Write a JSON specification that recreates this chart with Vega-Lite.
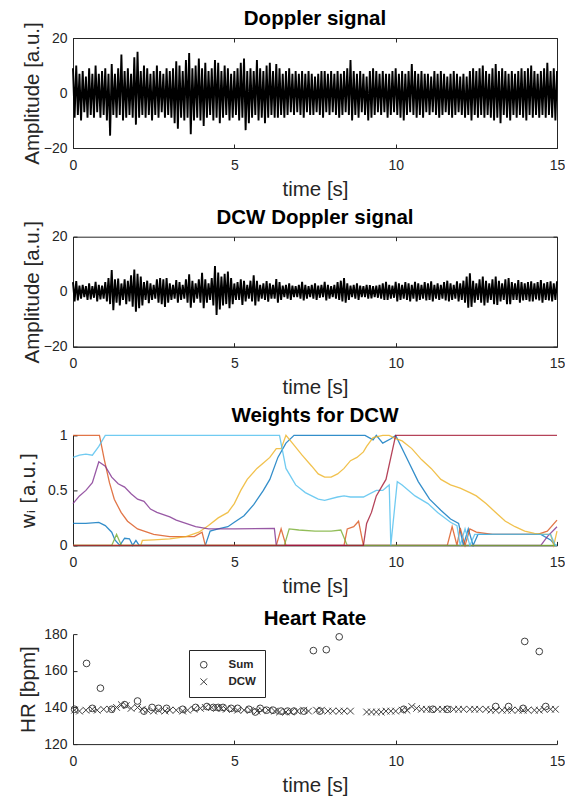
{
  "$schema": "https://vega.github.io/schema/vega-lite/v6.json",
  "padding": {"left": 17, "top": 8, "right": 5, "bottom": 5},
  "bounds": "flush",
  "spacing": 88.7,
  "background": "white",
  "config": {
    "font": "Liberation Sans",
    "view": {"stroke": "#262626", "strokeWidth": 1},
    "title": {"fontSize": 20.5, "fontWeight": "bold", "color": "#000000", "font": "Liberation Sans"},
    "axis": {
      "grid": false,
      "domainColor": "#262626",
      "tickColor": "#262626",
      "labelColor": "#262626",
      "titleColor": "#262626",
      "labelFont": "Liberation Sans",
      "labelFontSize": 14,
      "titleFont": "Liberation Sans",
      "titleFontSize": 20.5,
      "titleFontWeight": "normal",
      "tickSize": -4,
      "labelFlush": false,
      "labelOverlap": false
    },
    "axisX": {"labelPadding": 14, "titleY": 41, "titleBaseline": "middle"},
    "axisY": {"labelPadding": 10, "titleBaseline": "middle", "titleY": 55}
  },
  "datasets": {
    "raw": [
      {"t":0.0,"v":9},{"t":0.05,"v":-9},{"t":0.1,"v":10},{"t":0.15,"v":-8},{"t":0.2,"v":7},{"t":0.25,"v":-10},{"t":0.3,"v":8},{"t":0.35,"v":-7},{"t":0.4,"v":6},{"t":0.45,"v":-9},{"t":0.5,"v":9},{"t":0.55,"v":-8},{"t":0.6,"v":7},{"t":0.65,"v":-9},{"t":0.7,"v":10},{"t":0.75,"v":-7},{"t":0.8,"v":7},{"t":0.85,"v":-9},{"t":0.9,"v":8},{"t":0.95,"v":-8},
      {"t":1.0,"v":9},{"t":1.05,"v":-10},{"t":1.1,"v":7},{"t":1.15,"v":-15.5},{"t":1.2,"v":10.5},{"t":1.25,"v":-8},{"t":1.3,"v":7},{"t":1.35,"v":-9},{"t":1.4,"v":9},{"t":1.45,"v":-8},{"t":1.5,"v":14},{"t":1.55,"v":-10},{"t":1.6,"v":8},{"t":1.65,"v":-9},{"t":1.7,"v":9},{"t":1.75,"v":-8},{"t":1.8,"v":7},{"t":1.85,"v":-9},{"t":1.9,"v":13},{"t":1.95,"v":-11.5},
      {"t":2.0,"v":15},{"t":2.05,"v":-9},{"t":2.1,"v":8},{"t":2.15,"v":-8},{"t":2.2,"v":10},{"t":2.25,"v":-9},{"t":2.3,"v":9},{"t":2.35,"v":-8},{"t":2.4,"v":7},{"t":2.45,"v":-10},{"t":2.5,"v":8},{"t":2.55,"v":-8},{"t":2.6,"v":10},{"t":2.65,"v":-9},{"t":2.7,"v":8},{"t":2.75,"v":-7},{"t":2.8,"v":7},{"t":2.85,"v":-9},{"t":2.9,"v":9},{"t":2.95,"v":-8},
      {"t":3.0,"v":8},{"t":3.05,"v":-9},{"t":3.1,"v":9},{"t":3.15,"v":-11},{"t":3.2,"v":11.5},{"t":3.25,"v":-13},{"t":3.3,"v":10},{"t":3.35,"v":-9},{"t":3.4,"v":8},{"t":3.45,"v":-10},{"t":3.5,"v":12},{"t":3.55,"v":-9},{"t":3.6,"v":14.5},{"t":3.65,"v":-15},{"t":3.7,"v":9},{"t":3.75,"v":-10},{"t":3.8,"v":10},{"t":3.85,"v":-9},{"t":3.9,"v":12.5},{"t":3.95,"v":-10},
      {"t":4.0,"v":9},{"t":4.05,"v":-12},{"t":4.1,"v":11},{"t":4.15,"v":-9},{"t":4.2,"v":8},{"t":4.25,"v":-8},{"t":4.3,"v":9},{"t":4.35,"v":-10},{"t":4.4,"v":12},{"t":4.45,"v":-9},{"t":4.5,"v":11},{"t":4.55,"v":-11},{"t":4.6,"v":8},{"t":4.65,"v":-9},{"t":4.7,"v":10},{"t":4.75,"v":-8},{"t":4.8,"v":9},{"t":4.85,"v":-10},{"t":4.9,"v":7},{"t":4.95,"v":-9},
      {"t":5.0,"v":8},{"t":5.05,"v":-8},{"t":5.1,"v":9},{"t":5.15,"v":-10},{"t":5.2,"v":11},{"t":5.25,"v":-9},{"t":5.3,"v":12.5},{"t":5.35,"v":-13.5},{"t":5.4,"v":8},{"t":5.45,"v":-11},{"t":5.5,"v":9},{"t":5.55,"v":-9},{"t":5.6,"v":8},{"t":5.65,"v":-8},{"t":5.7,"v":12},{"t":5.75,"v":-10},{"t":5.8,"v":9},{"t":5.85,"v":-9},{"t":5.9,"v":8},{"t":5.95,"v":-11},
      {"t":6.0,"v":10},{"t":6.05,"v":-9},{"t":6.1,"v":11},{"t":6.15,"v":-8},{"t":6.2,"v":8},{"t":6.25,"v":-9},{"t":6.3,"v":10.5},{"t":6.35,"v":-9},{"t":6.4,"v":9},{"t":6.45,"v":-8},{"t":6.5,"v":7},{"t":6.55,"v":-9},{"t":6.6,"v":8},{"t":6.65,"v":-8},{"t":6.7,"v":9},{"t":6.75,"v":-7},{"t":6.8,"v":7},{"t":6.85,"v":-8},{"t":6.9,"v":8},{"t":6.95,"v":-7},
      {"t":7.0,"v":7},{"t":7.05,"v":-8},{"t":7.1,"v":8},{"t":7.15,"v":-9},{"t":7.2,"v":7},{"t":7.25,"v":-7},{"t":7.3,"v":8},{"t":7.35,"v":-8},{"t":7.4,"v":7},{"t":7.45,"v":-8},{"t":7.5,"v":6},{"t":7.55,"v":-7},{"t":7.6,"v":7},{"t":7.65,"v":-8},{"t":7.7,"v":8},{"t":7.75,"v":-9},{"t":7.8,"v":8},{"t":7.85,"v":-7},{"t":7.9,"v":7},{"t":7.95,"v":-8},
      {"t":8.0,"v":8},{"t":8.05,"v":-7},{"t":8.1,"v":7},{"t":8.15,"v":-8},{"t":8.2,"v":8},{"t":8.25,"v":-9},{"t":8.3,"v":7},{"t":8.35,"v":-8},{"t":8.4,"v":8},{"t":8.45,"v":-7},{"t":8.5,"v":9},{"t":8.55,"v":-8},{"t":8.6,"v":12},{"t":8.65,"v":-10},{"t":8.7,"v":8},{"t":8.75,"v":-8},{"t":8.8,"v":7},{"t":8.85,"v":-9},{"t":8.9,"v":8},{"t":8.95,"v":-7},
      {"t":9.0,"v":7},{"t":9.05,"v":-8},{"t":9.1,"v":6},{"t":9.15,"v":-10},{"t":9.2,"v":8},{"t":9.25,"v":-9},{"t":9.3,"v":9},{"t":9.35,"v":-8},{"t":9.4,"v":8},{"t":9.45,"v":-7},{"t":9.5,"v":7},{"t":9.55,"v":-8},{"t":9.6,"v":8},{"t":9.65,"v":-7},{"t":9.7,"v":7},{"t":9.75,"v":-9},{"t":9.8,"v":7},{"t":9.85,"v":-8},{"t":9.9,"v":8},{"t":9.95,"v":-7},
      {"t":10.0,"v":9},{"t":10.05,"v":-8},{"t":10.1,"v":7},{"t":10.15,"v":-9},{"t":10.2,"v":8},{"t":10.25,"v":-10},{"t":10.3,"v":7},{"t":10.35,"v":-8},{"t":10.4,"v":8},{"t":10.45,"v":-7},{"t":10.5,"v":10.5},{"t":10.55,"v":-8},{"t":10.6,"v":8},{"t":10.65,"v":-9},{"t":10.7,"v":7},{"t":10.75,"v":-8},{"t":10.8,"v":8},{"t":10.85,"v":-9},{"t":10.9,"v":7},{"t":10.95,"v":-7},
      {"t":11.0,"v":7},{"t":11.05,"v":-8},{"t":11.1,"v":6},{"t":11.15,"v":-7},{"t":11.2,"v":8},{"t":11.25,"v":-8},{"t":11.3,"v":7},{"t":11.35,"v":-9},{"t":11.4,"v":8},{"t":11.45,"v":-8},{"t":11.5,"v":7},{"t":11.55,"v":-7},{"t":11.6,"v":6},{"t":11.65,"v":-8},{"t":11.7,"v":7},{"t":11.75,"v":-9},{"t":11.8,"v":8},{"t":11.85,"v":-8},{"t":11.9,"v":7},{"t":11.95,"v":-7},
      {"t":12.0,"v":6},{"t":12.05,"v":-8},{"t":12.1,"v":7},{"t":12.15,"v":-9},{"t":12.2,"v":6},{"t":12.25,"v":-8},{"t":12.3,"v":8},{"t":12.35,"v":-10},{"t":12.4,"v":9},{"t":12.45,"v":-8},{"t":12.5,"v":8},{"t":12.55,"v":-9},{"t":12.6,"v":9},{"t":12.65,"v":-8},{"t":12.7,"v":10},{"t":12.75,"v":-9},{"t":12.8,"v":8},{"t":12.85,"v":-8},{"t":12.9,"v":7},{"t":12.95,"v":-9},
      {"t":13.0,"v":9},{"t":13.05,"v":-10},{"t":13.1,"v":10.5},{"t":13.15,"v":-9},{"t":13.2,"v":8},{"t":13.25,"v":-11},{"t":13.3,"v":9},{"t":13.35,"v":-8},{"t":13.4,"v":8},{"t":13.45,"v":-9},{"t":13.5,"v":7},{"t":13.55,"v":-10},{"t":13.6,"v":8},{"t":13.65,"v":-8},{"t":13.7,"v":7},{"t":13.75,"v":-9},{"t":13.8,"v":8},{"t":13.85,"v":-8},{"t":13.9,"v":9},{"t":13.95,"v":-9},
      {"t":14.0,"v":8},{"t":14.05,"v":-10},{"t":14.1,"v":9},{"t":14.15,"v":-8},{"t":14.2,"v":10},{"t":14.25,"v":-9},{"t":14.3,"v":8},{"t":14.35,"v":-8},{"t":14.4,"v":7},{"t":14.45,"v":-9},{"t":14.5,"v":8},{"t":14.55,"v":-8},{"t":14.6,"v":9},{"t":14.65,"v":-9},{"t":14.7,"v":11},{"t":14.75,"v":-8},{"t":14.8,"v":8},{"t":14.85,"v":-9},{"t":14.9,"v":9},{"t":14.95,"v":-10},
      {"t":15.0,"v":8}
    ],
    "dcw": [
      {"t":0.0,"v":3.5},{"t":0.05,"v":-3.5},{"t":0.1,"v":3.9},{"t":0.15,"v":-3.2},{"t":0.2,"v":2.2},{"t":0.25,"v":-2.5},{"t":0.3,"v":2.5},{"t":0.35,"v":-2},{"t":0.4,"v":2},{"t":0.45,"v":-3},{"t":0.5,"v":3},{"t":0.55,"v":-2.8},{"t":0.6,"v":2},{"t":0.65,"v":-2.2},{"t":0.7,"v":3.6},{"t":0.75,"v":-3.5},{"t":0.8,"v":2.5},{"t":0.85,"v":-2.8},{"t":0.9,"v":2.2},{"t":0.95,"v":-2.5},
      {"t":1.0,"v":3.5},{"t":1.05,"v":-3.5},{"t":1.1,"v":5},{"t":1.15,"v":-4.5},{"t":1.2,"v":7.9},{"t":1.25,"v":-6.7},{"t":1.3,"v":4.5},{"t":1.35,"v":-4},{"t":1.4,"v":4.8},{"t":1.45,"v":-5},{"t":1.5,"v":3},{"t":1.55,"v":-3},{"t":1.6,"v":4.5},{"t":1.65,"v":-4.5},{"t":1.7,"v":4},{"t":1.75,"v":-3.5},{"t":1.8,"v":6},{"t":1.85,"v":-5.5},{"t":1.9,"v":8.1},{"t":1.95,"v":-7.3},
      {"t":2.0,"v":6.5},{"t":2.05,"v":-6},{"t":2.1,"v":5.5},{"t":2.15,"v":-5},{"t":2.2,"v":3.5},{"t":2.25,"v":-3},{"t":2.3,"v":4},{"t":2.35,"v":-4.2},{"t":2.4,"v":3},{"t":2.45,"v":-3},{"t":2.5,"v":2.5},{"t":2.55,"v":-2.5},{"t":2.6,"v":4.5},{"t":2.65,"v":-4},{"t":2.7,"v":5},{"t":2.75,"v":-4.5},{"t":2.8,"v":4.5},{"t":2.85,"v":-5.5},{"t":2.9,"v":5},{"t":2.95,"v":-4},
      {"t":3.0,"v":3},{"t":3.05,"v":-3},{"t":3.1,"v":2.5},{"t":3.15,"v":-2.5},{"t":3.2,"v":4.2},{"t":3.25,"v":-4},{"t":3.3,"v":3.5},{"t":3.35,"v":-3},{"t":3.4,"v":2.5},{"t":3.45,"v":-2.5},{"t":3.5,"v":4.5},{"t":3.55,"v":-4},{"t":3.6,"v":6.3},{"t":3.65,"v":-5.8},{"t":3.7,"v":4},{"t":3.75,"v":-4},{"t":3.8,"v":3},{"t":3.85,"v":-2.5},{"t":3.9,"v":4.5},{"t":3.95,"v":-4},
      {"t":4.0,"v":6.9},{"t":4.05,"v":-6},{"t":4.1,"v":4.5},{"t":4.15,"v":-4},{"t":4.2,"v":3},{"t":4.25,"v":-3},{"t":4.3,"v":5},{"t":4.35,"v":-5},{"t":4.4,"v":9.3},{"t":4.45,"v":-8.5},{"t":4.5,"v":7},{"t":4.55,"v":-6.5},{"t":4.6,"v":5.5},{"t":4.65,"v":-5},{"t":4.7,"v":6.5},{"t":4.75,"v":-4.5},{"t":4.8,"v":7.3},{"t":4.85,"v":-6},{"t":4.9,"v":5},{"t":4.95,"v":-4.5},
      {"t":5.0,"v":3},{"t":5.05,"v":-3},{"t":5.1,"v":3.5},{"t":5.15,"v":-3},{"t":5.2,"v":4.5},{"t":5.25,"v":-4.8},{"t":5.3,"v":4},{"t":5.35,"v":-3.5},{"t":5.4,"v":2.5},{"t":5.45,"v":-2.5},{"t":5.5,"v":4},{"t":5.55,"v":-3.5},{"t":5.6,"v":6},{"t":5.65,"v":-5},{"t":5.7,"v":4},{"t":5.75,"v":-3.5},{"t":5.8,"v":2.5},{"t":5.85,"v":-2.5},{"t":5.9,"v":3},{"t":5.95,"v":-3},
      {"t":6.0,"v":3.9},{"t":6.05,"v":-3.6},{"t":6.1,"v":3},{"t":6.15,"v":-2.5},{"t":6.2,"v":2.5},{"t":6.25,"v":-2.5},{"t":6.3,"v":4.6},{"t":6.35,"v":-4},{"t":6.4,"v":3.5},{"t":6.45,"v":-3},{"t":6.5,"v":2.2},{"t":6.55,"v":-2},{"t":6.6,"v":2.5},{"t":6.65,"v":-2.5},{"t":6.7,"v":3},{"t":6.75,"v":-3},{"t":6.8,"v":2.2},{"t":6.85,"v":-2},{"t":6.9,"v":2},{"t":6.95,"v":-2},
      {"t":7.0,"v":2.5},{"t":7.05,"v":-2.5},{"t":7.1,"v":3.6},{"t":7.15,"v":-3.2},{"t":7.2,"v":2.5},{"t":7.25,"v":-2.5},{"t":7.3,"v":2},{"t":7.35,"v":-2},{"t":7.4,"v":2.5},{"t":7.45,"v":-2.5},{"t":7.5,"v":3},{"t":7.55,"v":-3},{"t":7.6,"v":2.2},{"t":7.65,"v":-2.2},{"t":7.7,"v":2.5},{"t":7.75,"v":-2},{"t":7.8,"v":3.6},{"t":7.85,"v":-3.2},{"t":7.9,"v":2.5},{"t":7.95,"v":-2.5},
      {"t":8.0,"v":2},{"t":8.05,"v":-2},{"t":8.1,"v":2.5},{"t":8.15,"v":-2.5},{"t":8.2,"v":3.5},{"t":8.25,"v":-3},{"t":8.3,"v":4},{"t":8.35,"v":-3.5},{"t":8.4,"v":5},{"t":8.45,"v":-4},{"t":8.5,"v":3},{"t":8.55,"v":-3},{"t":8.6,"v":2.2},{"t":8.65,"v":-2},{"t":8.7,"v":2.5},{"t":8.75,"v":-2.5},{"t":8.8,"v":3},{"t":8.85,"v":-3},{"t":8.9,"v":2.2},{"t":8.95,"v":-2},
      {"t":9.0,"v":2},{"t":9.05,"v":-2},{"t":9.1,"v":2.5},{"t":9.15,"v":-2.5},{"t":9.2,"v":2.4},{"t":9.25,"v":-2.4},{"t":9.3,"v":2},{"t":9.35,"v":-2},{"t":9.4,"v":2.2},{"t":9.45,"v":-2.2},{"t":9.5,"v":2.5},{"t":9.55,"v":-2.5},{"t":9.6,"v":3},{"t":9.65,"v":-3},{"t":9.7,"v":3.6},{"t":9.75,"v":-3},{"t":9.8,"v":2.5},{"t":9.85,"v":-2.5},{"t":9.9,"v":2.2},{"t":9.95,"v":-2.2},
      {"t":10.0,"v":3.6},{"t":10.05,"v":-3.5},{"t":10.1,"v":3},{"t":10.15,"v":-3},{"t":10.2,"v":2.5},{"t":10.25,"v":-2.5},{"t":10.3,"v":3.5},{"t":10.35,"v":-3},{"t":10.4,"v":3},{"t":10.45,"v":-3.5},{"t":10.5,"v":2.5},{"t":10.55,"v":-2.5},{"t":10.6,"v":3.6},{"t":10.65,"v":-3.5},{"t":10.7,"v":3},{"t":10.75,"v":-3},{"t":10.8,"v":2.5},{"t":10.85,"v":-2.5},{"t":10.9,"v":3.5},{"t":10.95,"v":-3.2},
      {"t":11.0,"v":3},{"t":11.05,"v":-3},{"t":11.1,"v":3.8},{"t":11.15,"v":-3.5},{"t":11.2,"v":2.5},{"t":11.25,"v":-2.5},{"t":11.3,"v":3},{"t":11.35,"v":-3},{"t":11.4,"v":2.5},{"t":11.45,"v":-2.5},{"t":11.5,"v":3.5},{"t":11.55,"v":-3.2},{"t":11.6,"v":4},{"t":11.65,"v":-3.5},{"t":11.7,"v":3},{"t":11.75,"v":-3},{"t":11.8,"v":2.5},{"t":11.85,"v":-2.5},{"t":11.9,"v":3.8},{"t":11.95,"v":-3.5},
      {"t":12.0,"v":3},{"t":12.05,"v":-3},{"t":12.1,"v":4},{"t":12.15,"v":-4},{"t":12.2,"v":5.5},{"t":12.25,"v":-5.8},{"t":12.3,"v":6.7},{"t":12.35,"v":-5.5},{"t":12.4,"v":4},{"t":12.45,"v":-4},{"t":12.5,"v":3},{"t":12.55,"v":-3},{"t":12.6,"v":4.5},{"t":12.65,"v":-4},{"t":12.7,"v":5.5},{"t":12.75,"v":-5},{"t":12.8,"v":4},{"t":12.85,"v":-4},{"t":12.9,"v":3},{"t":12.95,"v":-3},
      {"t":13.0,"v":4.5},{"t":13.05,"v":-4.5},{"t":13.1,"v":5.5},{"t":13.15,"v":-4.8},{"t":13.2,"v":4},{"t":13.25,"v":-3.5},{"t":13.3,"v":3},{"t":13.35,"v":-3},{"t":13.4,"v":4.5},{"t":13.45,"v":-4.5},{"t":13.5,"v":5},{"t":13.55,"v":-4.5},{"t":13.6,"v":3.5},{"t":13.65,"v":-3},{"t":13.7,"v":3},{"t":13.75,"v":-3},{"t":13.8,"v":4.2},{"t":13.85,"v":-4},{"t":13.9,"v":3.5},{"t":13.95,"v":-3.2},
      {"t":14.0,"v":3},{"t":14.05,"v":-3},{"t":14.1,"v":3.5},{"t":14.15,"v":-3.5},{"t":14.2,"v":3.8},{"t":14.25,"v":-3.5},{"t":14.3,"v":3},{"t":14.35,"v":-2.8},{"t":14.4,"v":3.5},{"t":14.45,"v":-3.2},{"t":14.5,"v":4.2},{"t":14.55,"v":-4},{"t":14.6,"v":3},{"t":14.65,"v":-3},{"t":14.7,"v":3.5},{"t":14.75,"v":-3.2},{"t":14.8,"v":3.8},{"t":14.85,"v":-3.5},{"t":14.9,"v":3},{"t":14.95,"v":-3},
      {"t":15.0,"v":3.8}
    ],
    "w": [
      {"s":"w1","t":0,"w":0.2},{"s":"w1","t":0.4,"w":0.2},{"s":"w1","t":0.8,"w":0.21},{"s":"w1","t":1.0,"w":0.18},{"s":"w1","t":1.2,"w":0.12},{"s":"w1","t":1.3,"w":0.05},{"s":"w1","t":1.45,"w":0},{"s":"w1","t":1.6,"w":0.065},{"s":"w1","t":1.75,"w":0.06},{"s":"w1","t":1.85,"w":0},{"s":"w1","t":1.95,"w":0.045},{"s":"w1","t":2.05,"w":0},{"s":"w1","t":4.1,"w":0},{"s":"w1","t":4.25,"w":0.13},{"s":"w1","t":4.5,"w":0.15},{"s":"w1","t":4.8,"w":0.17},{"s":"w1","t":5.0,"w":0.21},{"s":"w1","t":5.3,"w":0.27},{"s":"w1","t":5.6,"w":0.37},{"s":"w1","t":5.9,"w":0.5},{"s":"w1","t":6.1,"w":0.6},{"s":"w1","t":6.35,"w":0.8},{"s":"w1","t":6.6,"w":0.93},{"s":"w1","t":6.85,"w":1.0},{"s":"w1","t":9.05,"w":1.0},{"s":"w1","t":9.3,"w":0.96},{"s":"w1","t":9.4,"w":1.0},{"s":"w1","t":9.6,"w":0.93},{"s":"w1","t":9.85,"w":0.97},{"s":"w1","t":10.0,"w":1.0},{"s":"w1","t":10.35,"w":0.79},{"s":"w1","t":10.7,"w":0.58},{"s":"w1","t":11.05,"w":0.42},{"s":"w1","t":11.4,"w":0.32},{"s":"w1","t":11.7,"w":0.24},{"s":"w1","t":11.95,"w":0.2},{"s":"w1","t":12.1,"w":0},{"s":"w1","t":12.25,"w":0.15},{"s":"w1","t":12.4,"w":0},{"s":"w1","t":12.55,"w":0.1},{"s":"w1","t":14.5,"w":0.1},{"s":"w1","t":14.8,"w":0.05},{"s":"w1","t":14.95,"w":0},{"s":"w1","t":15,"w":0},
      {"s":"w2","t":0,"w":1},{"s":"w2","t":0.82,"w":1},{"s":"w2","t":0.97,"w":0.78},{"s":"w2","t":1.13,"w":0.57},{"s":"w2","t":1.28,"w":0.42},{"s":"w2","t":1.49,"w":0.3},{"s":"w2","t":1.69,"w":0.22},{"s":"w2","t":2.0,"w":0.15},{"s":"w2","t":2.5,"w":0.1},{"s":"w2","t":3.0,"w":0.08},{"s":"w2","t":3.76,"w":0.08},{"s":"w2","t":4.0,"w":0.12},{"s":"w2","t":4.1,"w":0},{"s":"w2","t":6.3,"w":0},{"s":"w2","t":6.45,"w":0.15},{"s":"w2","t":6.6,"w":0},{"s":"w2","t":8.4,"w":0},{"s":"w2","t":8.5,"w":0.15},{"s":"w2","t":8.7,"w":0.17},{"s":"w2","t":8.85,"w":0.22},{"s":"w2","t":9.0,"w":0},{"s":"w2","t":11.6,"w":0},{"s":"w2","t":11.75,"w":0.17},{"s":"w2","t":11.9,"w":0},{"s":"w2","t":12.0,"w":0.16},{"s":"w2","t":12.15,"w":0},{"s":"w2","t":12.3,"w":0.15},{"s":"w2","t":12.5,"w":0.12},{"s":"w2","t":13.0,"w":0.1},{"s":"w2","t":14.4,"w":0.1},{"s":"w2","t":14.7,"w":0.13},{"s":"w2","t":15,"w":0.23},
      {"s":"w3","t":0,"w":0},{"s":"w3","t":2.1,"w":0},{"s":"w3","t":2.15,"w":0.045},{"s":"w3","t":2.5,"w":0.05},{"s":"w3","t":3.0,"w":0.06},{"s":"w3","t":3.5,"w":0.08},{"s":"w3","t":3.9,"w":0.12},{"s":"w3","t":4.2,"w":0.18},{"s":"w3","t":4.5,"w":0.25},{"s":"w3","t":4.8,"w":0.3},{"s":"w3","t":5.0,"w":0.38},{"s":"w3","t":5.2,"w":0.5},{"s":"w3","t":5.4,"w":0.6},{"s":"w3","t":5.7,"w":0.7},{"s":"w3","t":5.9,"w":0.75},{"s":"w3","t":6.1,"w":0.8},{"s":"w3","t":6.3,"w":0.88},{"s":"w3","t":6.45,"w":0.88},{"s":"w3","t":6.6,"w":1.0},{"s":"w3","t":6.8,"w":0.93},{"s":"w3","t":7.1,"w":0.82},{"s":"w3","t":7.4,"w":0.72},{"s":"w3","t":7.6,"w":0.65},{"s":"w3","t":7.8,"w":0.62},{"s":"w3","t":8.0,"w":0.62},{"s":"w3","t":8.2,"w":0.65},{"s":"w3","t":8.4,"w":0.7},{"s":"w3","t":8.6,"w":0.77},{"s":"w3","t":8.8,"w":0.8},{"s":"w3","t":9.0,"w":0.85},{"s":"w3","t":9.1,"w":0.9},{"s":"w3","t":9.3,"w":0.98},{"s":"w3","t":9.6,"w":1.0},{"s":"w3","t":9.8,"w":1.0},{"s":"w3","t":10.0,"w":0.97},{"s":"w3","t":10.2,"w":0.95},{"s":"w3","t":10.5,"w":0.88},{"s":"w3","t":10.8,"w":0.78},{"s":"w3","t":11.1,"w":0.7},{"s":"w3","t":11.4,"w":0.6},{"s":"w3","t":11.7,"w":0.55},{"s":"w3","t":12.0,"w":0.52},{"s":"w3","t":12.3,"w":0.48},{"s":"w3","t":12.5,"w":0.45},{"s":"w3","t":12.8,"w":0.38},{"s":"w3","t":13.1,"w":0.3},{"s":"w3","t":13.4,"w":0.22},{"s":"w3","t":13.7,"w":0.17},{"s":"w3","t":14.0,"w":0.13},{"s":"w3","t":14.3,"w":0.11},{"s":"w3","t":14.6,"w":0.1},{"s":"w3","t":14.8,"w":0.1},{"s":"w3","t":14.9,"w":0},{"s":"w3","t":15,"w":0.13},
      {"s":"w4","t":0,"w":0.38},{"s":"w4","t":0.2,"w":0.45},{"s":"w4","t":0.4,"w":0.5},{"s":"w4","t":0.6,"w":0.57},{"s":"w4","t":0.8,"w":0.76},{"s":"w4","t":1.0,"w":0.72},{"s":"w4","t":1.2,"w":0.62},{"s":"w4","t":1.4,"w":0.56},{"s":"w4","t":1.6,"w":0.53},{"s":"w4","t":1.8,"w":0.47},{"s":"w4","t":2.0,"w":0.42},{"s":"w4","t":2.2,"w":0.4},{"s":"w4","t":2.4,"w":0.33},{"s":"w4","t":2.6,"w":0.3},{"s":"w4","t":3.0,"w":0.26},{"s":"w4","t":3.2,"w":0.23},{"s":"w4","t":3.5,"w":0.2},{"s":"w4","t":3.8,"w":0.17},{"s":"w4","t":4.2,"w":0.15},{"s":"w4","t":5.0,"w":0.15},{"s":"w4","t":6.24,"w":0.155},{"s":"w4","t":6.3,"w":0},{"s":"w4","t":14.5,"w":0},{"s":"w4","t":14.7,"w":0.08},{"s":"w4","t":15,"w":0.17},
      {"s":"w5","t":0,"w":0},{"s":"w5","t":1.2,"w":0},{"s":"w5","t":1.35,"w":0.1},{"s":"w5","t":1.5,"w":0},{"s":"w5","t":6.55,"w":0},{"s":"w5","t":6.7,"w":0.15},{"s":"w5","t":7.0,"w":0.14},{"s":"w5","t":7.5,"w":0.13},{"s":"w5","t":8.0,"w":0.13},{"s":"w5","t":8.3,"w":0.14},{"s":"w5","t":8.5,"w":0},{"s":"w5","t":15,"w":0},
      {"s":"w6","t":0,"w":0.8},{"s":"w6","t":0.2,"w":0.82},{"s":"w6","t":0.4,"w":0.83},{"s":"w6","t":0.6,"w":0.82},{"s":"w6","t":0.8,"w":0.9},{"s":"w6","t":1.0,"w":1.0},{"s":"w6","t":6.4,"w":1.0},{"s":"w6","t":6.6,"w":0.7},{"s":"w6","t":6.9,"w":0.55},{"s":"w6","t":7.2,"w":0.48},{"s":"w6","t":7.6,"w":0.42},{"s":"w6","t":7.8,"w":0.41},{"s":"w6","t":8.2,"w":0.44},{"s":"w6","t":8.4,"w":0.45},{"s":"w6","t":8.6,"w":0.44},{"s":"w6","t":9.0,"w":0.44},{"s":"w6","t":9.4,"w":0.5},{"s":"w6","t":9.6,"w":0.5},{"s":"w6","t":9.8,"w":0.55},{"s":"w6","t":9.85,"w":0},{"s":"w6","t":10.05,"w":0.58},{"s":"w6","t":10.2,"w":0.55},{"s":"w6","t":10.6,"w":0.45},{"s":"w6","t":11.0,"w":0.38},{"s":"w6","t":11.3,"w":0.3},{"s":"w6","t":11.7,"w":0.21},{"s":"w6","t":11.9,"w":0.18},{"s":"w6","t":12.0,"w":0},{"s":"w6","t":12.15,"w":0.15},{"s":"w6","t":12.3,"w":0},{"s":"w6","t":12.45,"w":0.1},{"s":"w6","t":14.5,"w":0.1},{"s":"w6","t":14.8,"w":0.1},{"s":"w6","t":14.95,"w":0},{"s":"w6","t":15,"w":0},
      {"s":"w7","t":0,"w":0},{"s":"w7","t":9.0,"w":0},{"s":"w7","t":9.1,"w":0.2},{"s":"w7","t":9.25,"w":0.3},{"s":"w7","t":9.4,"w":0.45},{"s":"w7","t":9.6,"w":0.55},{"s":"w7","t":9.7,"w":0.6},{"s":"w7","t":9.85,"w":0.8},{"s":"w7","t":10.0,"w":1.0},{"s":"w7","t":15,"w":1.0}
    ],
    "hr": [
      {"m":"Sum","t":0.05,"hr":139},{"m":"Sum","t":0.42,"hr":164},{"m":"Sum","t":0.6,"hr":139.5},{"m":"Sum","t":0.85,"hr":150.5},{"m":"Sum","t":1.2,"hr":139},{"m":"Sum","t":1.6,"hr":141.5},{"m":"Sum","t":2.0,"hr":143.5},{"m":"Sum","t":2.2,"hr":138},{"m":"Sum","t":2.45,"hr":140},{"m":"Sum","t":2.65,"hr":139.5},{"m":"Sum","t":2.9,"hr":139.5},{"m":"Sum","t":3.4,"hr":139},{"m":"Sum","t":3.8,"hr":140},{"m":"Sum","t":4.15,"hr":140.5},{"m":"Sum","t":4.35,"hr":140},{"m":"Sum","t":4.5,"hr":140},{"m":"Sum","t":4.65,"hr":140},{"m":"Sum","t":4.9,"hr":139.5},{"m":"Sum","t":5.1,"hr":139.5},{"m":"Sum","t":5.45,"hr":139},{"m":"Sum","t":5.65,"hr":137.5},{"m":"Sum","t":5.8,"hr":139.5},{"m":"Sum","t":6.0,"hr":138.5},{"m":"Sum","t":6.2,"hr":138.5},{"m":"Sum","t":6.45,"hr":138},{"m":"Sum","t":6.65,"hr":138},{"m":"Sum","t":6.85,"hr":138},{"m":"Sum","t":7.15,"hr":138},{"m":"Sum","t":7.45,"hr":171},{"m":"Sum","t":7.65,"hr":138},{"m":"Sum","t":7.85,"hr":171.5},{"m":"Sum","t":8.25,"hr":178.5},{"m":"Sum","t":10.25,"hr":139},{"m":"Sum","t":11.15,"hr":139},{"m":"Sum","t":11.6,"hr":139},{"m":"Sum","t":13.1,"hr":140.5},{"m":"Sum","t":13.5,"hr":140.5},{"m":"Sum","t":14.0,"hr":176},{"m":"Sum","t":13.95,"hr":139.5},{"m":"Sum","t":14.45,"hr":170.5},{"m":"Sum","t":14.65,"hr":140.5},
      {"m":"DCW","t":0.05,"hr":138.5},{"m":"DCW","t":0.2,"hr":138},{"m":"DCW","t":0.4,"hr":138.5},{"m":"DCW","t":0.6,"hr":139},{"m":"DCW","t":0.75,"hr":138.5},{"m":"DCW","t":0.95,"hr":139},{"m":"DCW","t":1.15,"hr":139},{"m":"DCW","t":1.35,"hr":140},{"m":"DCW","t":1.5,"hr":141.5},{"m":"DCW","t":1.65,"hr":141},{"m":"DCW","t":1.8,"hr":139.5},{"m":"DCW","t":2.0,"hr":140},{"m":"DCW","t":2.15,"hr":139},{"m":"DCW","t":2.3,"hr":138.5},{"m":"DCW","t":2.5,"hr":138},{"m":"DCW","t":2.65,"hr":138.5},{"m":"DCW","t":2.85,"hr":138},{"m":"DCW","t":3.0,"hr":138.5},{"m":"DCW","t":3.2,"hr":138.5},{"m":"DCW","t":3.4,"hr":138},{"m":"DCW","t":3.55,"hr":138.5},{"m":"DCW","t":3.75,"hr":139},{"m":"DCW","t":3.95,"hr":139.5},{"m":"DCW","t":4.1,"hr":140},{"m":"DCW","t":4.3,"hr":140},{"m":"DCW","t":4.45,"hr":139.5},{"m":"DCW","t":4.6,"hr":139.5},{"m":"DCW","t":4.75,"hr":139},{"m":"DCW","t":4.95,"hr":139},{"m":"DCW","t":5.1,"hr":138.5},{"m":"DCW","t":5.3,"hr":138.5},{"m":"DCW","t":5.5,"hr":138.5},{"m":"DCW","t":5.7,"hr":138},{"m":"DCW","t":5.85,"hr":138.5},{"m":"DCW","t":6.05,"hr":138.5},{"m":"DCW","t":6.25,"hr":138},{"m":"DCW","t":6.4,"hr":137.5},{"m":"DCW","t":6.6,"hr":137.5},{"m":"DCW","t":6.75,"hr":137.5},{"m":"DCW","t":6.95,"hr":138},{"m":"DCW","t":7.15,"hr":138.5},{"m":"DCW","t":7.3,"hr":138},{"m":"DCW","t":7.55,"hr":138.5},{"m":"DCW","t":7.7,"hr":138.5},{"m":"DCW","t":7.9,"hr":138},{"m":"DCW","t":8.05,"hr":138},{"m":"DCW","t":8.25,"hr":138},{"m":"DCW","t":8.4,"hr":138},{"m":"DCW","t":8.6,"hr":138},{"m":"DCW","t":9.1,"hr":137.5},{"m":"DCW","t":9.25,"hr":137.5},{"m":"DCW","t":9.4,"hr":137.5},{"m":"DCW","t":9.55,"hr":137.5},{"m":"DCW","t":9.7,"hr":138},{"m":"DCW","t":9.85,"hr":138},{"m":"DCW","t":10.0,"hr":138},{"m":"DCW","t":10.2,"hr":138.5},{"m":"DCW","t":10.35,"hr":138.5},{"m":"DCW","t":10.5,"hr":140.5},{"m":"DCW","t":10.65,"hr":139.5},{"m":"DCW","t":10.8,"hr":139},{"m":"DCW","t":10.95,"hr":139},{"m":"DCW","t":11.1,"hr":139},{"m":"DCW","t":11.3,"hr":139},{"m":"DCW","t":11.45,"hr":139},{"m":"DCW","t":11.6,"hr":139},{"m":"DCW","t":11.8,"hr":139},{"m":"DCW","t":11.95,"hr":139},{"m":"DCW","t":12.1,"hr":139},{"m":"DCW","t":12.3,"hr":139},{"m":"DCW","t":12.45,"hr":139},{"m":"DCW","t":12.6,"hr":139},{"m":"DCW","t":12.8,"hr":139},{"m":"DCW","t":12.95,"hr":138.5},{"m":"DCW","t":13.1,"hr":138.5},{"m":"DCW","t":13.3,"hr":138.5},{"m":"DCW","t":13.45,"hr":138.5},{"m":"DCW","t":13.6,"hr":138.5},{"m":"DCW","t":13.8,"hr":138.5},{"m":"DCW","t":13.95,"hr":138.5},{"m":"DCW","t":14.1,"hr":138.5},{"m":"DCW","t":14.3,"hr":138.5},{"m":"DCW","t":14.45,"hr":138.5},{"m":"DCW","t":14.6,"hr":139},{"m":"DCW","t":14.8,"hr":139},{"m":"DCW","t":14.95,"hr":139}
    ]
  },
  "vconcat": [
    {
      "width": 484, "height": 110,
      "title": {"text": "Doppler signal", "offset": -8},
      "data": {"name": "raw"},
      "layer": [
        {
          "mark": {"type": "line", "color": "#000000", "strokeWidth": 1.9, "strokeJoin": "bevel"},
          "encoding": {
            "x": {"field": "t", "type": "quantitative", "scale": {"domain": [0, 15], "nice": false}, "axis": {"values": [0, 5, 10, 15], "title": "time [s]"}},
            "y": {"field": "v", "type": "quantitative", "scale": {"domain": [-20, 20], "nice": false}, "axis": {"values": [-20, 0, 20], "title": "Amplitude [a.u.]", "titleX": -41}}
          }
        },
        {
          "mark": {"type": "line", "opacity": 0},
          "encoding": {
            "x": {"field": "t", "type": "quantitative", "axis": {"orient": "top", "values": [0, 5, 10, 15], "labels": false, "title": null, "domain": false}},
            "y": {"field": "v", "type": "quantitative", "axis": {"orient": "right", "values": [-20, 0, 20], "labels": false, "title": null, "domain": false}}
          }
        }
      ],
      "resolve": {"axis": {"x": "independent", "y": "independent"}}
    },
    {
      "width": 484, "height": 110,
      "title": {"text": "DCW Doppler signal", "offset": -8},
      "data": {"name": "dcw"},
      "layer": [
        {
          "mark": {"type": "line", "color": "#000000", "strokeWidth": 1.9, "strokeJoin": "bevel"},
          "encoding": {
            "x": {"field": "t", "type": "quantitative", "scale": {"domain": [0, 15], "nice": false}, "axis": {"values": [0, 5, 10, 15], "title": "time [s]"}},
            "y": {"field": "v", "type": "quantitative", "scale": {"domain": [-20, 20], "nice": false}, "axis": {"values": [-20, 0, 20], "title": "Amplitude [a.u.]", "titleX": -41}}
          }
        },
        {
          "mark": {"type": "line", "opacity": 0},
          "encoding": {
            "x": {"field": "t", "type": "quantitative", "axis": {"orient": "top", "values": [0, 5, 10, 15], "labels": false, "title": null, "domain": false}},
            "y": {"field": "v", "type": "quantitative", "axis": {"orient": "right", "values": [-20, 0, 20], "labels": false, "title": null, "domain": false}}
          }
        }
      ],
      "resolve": {"axis": {"x": "independent", "y": "independent"}}
    },
    {
      "width": 484, "height": 110,
      "title": {"text": "Weights for DCW", "offset": 2},
      "view": {"stroke": null},
      "data": {"name": "w"},
      "mark": {"type": "line", "strokeWidth": 1.3, "opacity": 0.8},
      "encoding": {
        "x": {"field": "t", "type": "quantitative", "scale": {"domain": [0, 15], "nice": false}, "axis": {"values": [0, 5, 10, 15], "title": "time [s]"}},
        "y": {"field": "w", "type": "quantitative", "scale": {"domain": [0, 1], "nice": false}, "axis": {"values": [0, 0.5, 1], "format": "~g", "title": "wᵢ [a.u.]", "titleFont": "DejaVu Sans", "titleFontSize": 19, "titleX": -45}},
        "color": {"field": "s", "type": "nominal", "legend": null, "scale": {"domain": ["w1","w2","w3","w4","w5","w6","w7"], "range": ["#0072BD","#D95319","#EDB120","#7E2F8E","#77AC30","#4DBEEE","#A2142F"]}}
      }
    },
    {
      "width": 484, "height": 110,
      "title": {"text": "Heart Rate", "offset": -2},
      "view": {"stroke": null},
      "data": {"name": "hr"},
      "mark": {"type": "point", "filled": false, "stroke": "#404040", "strokeWidth": 1, "size": 45, "opacity": 1},
      "encoding": {
        "x": {"field": "t", "type": "quantitative", "scale": {"domain": [0, 15], "nice": false}, "axis": {"values": [0, 5, 10, 15], "title": "time [s]"}},
        "y": {"field": "hr", "type": "quantitative", "scale": {"domain": [120, 180], "nice": false}, "axis": {"values": [120, 140, 160, 180], "title": "HR [bpm]", "titleX": -45}},
        "shape": {"field": "m", "type": "nominal", "scale": {"domain": ["Sum", "DCW"], "range": ["circle", "M-1,-1L1,1M1,-1L-1,1"]},
          "legend": {"title": null, "orient": "none", "legendX": 116, "legendY": 612, "strokeColor": "#262626", "fillColor": "white", "padding": 9, "rowPadding": 4, "labelFontSize": 11.5, "labelFontWeight": "bold", "labelColor": "#262626", "labelOffset": 19, "symbolSize": 45, "symbolStrokeColor": "#404040", "symbolStrokeWidth": 1, "symbolFillColor": "transparent"}}
      }
    }
  ]
}
